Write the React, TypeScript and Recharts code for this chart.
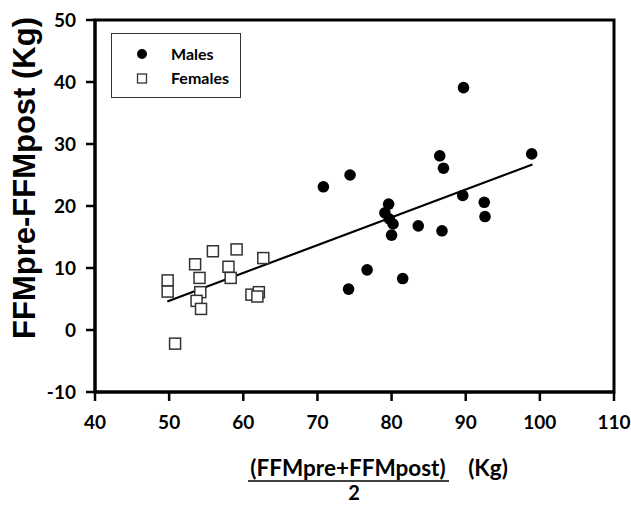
import {
  ReferenceArea,
  ReferenceLine,
  Scatter,
  ScatterChart,
  XAxis,
  YAxis,
} from "recharts";

// ─── Data ────────────────────────────────────────────────────────────────────

const maleX = [70.8, 74.4, 74.2, 76.7, 79.6, 79.1, 79.7, 80.2, 80.0, 81.5, 83.6, 86.5, 87.0, 86.8, 89.7, 89.6, 92.5, 92.6, 98.9];
const maleY = [23.1, 25.0, 6.6, 9.7, 20.3, 18.9, 17.9, 17.1, 15.3, 8.3, 16.8, 28.1, 26.1, 16.0, 39.1, 21.7, 20.6, 18.3, 28.4];

const femaleX = [49.8, 49.8, 50.8, 53.5, 54.1, 54.2, 53.7, 54.3, 55.9, 59.1, 58.0, 58.3, 62.7, 61.1, 62.1, 61.9];
const femaleY = [8.0, 6.2, -2.2, 10.6, 8.4, 6.1, 4.7, 3.4, 12.7, 13.0, 10.2, 8.4, 11.6, 5.7, 6.1, 5.4];

// regression line end points
const fitX = [49.75, 99.0];
const fitY = [4.6, 26.7];

const xTicks = [40, 50, 60, 70, 80, 90, 100, 110];
const yTicks = [-10, 0, 10, 20, 30, 40, 50];

const males = maleX.map((x, i) => ({ x, y: maleY[i] }));
const females = femaleX.map((x, i) => ({ x, y: femaleY[i] }));

// ─── Styles ──────────────────────────────────────────────────────────────────

const tickFont = { fill: "#000", fontSize: 19, fontWeight: 700, fontFamily: "Lato" } as const;
const axisLine = { stroke: "#000", strokeWidth: 3 } as const;
const tickLine = { stroke: "#000", strokeWidth: 2.5 } as const;

function MaleDot(props: any) {
  const { cx, cy } = props;
  return <circle cx={cx} cy={cy} r={5.8} fill="#000" />;
}

function FemaleSquare(props: any) {
  const { cx, cy } = props;
  return (
    <rect x={cx - 5.5} y={cy - 5.5} width={11} height={11} fill="#fff" stroke="#333" strokeWidth={1.5} />
  );
}

function XTitle() {
  const font = { fontFamily: "Lato", fontWeight: 700, fontSize: 22.5, fill: "#000" };
  return (
    <g>
      <text x={348} y={476} textAnchor="middle" style={font}>
        (FFMpre+FFMpost)
      </text>
      <line x1={248} x2={449} y1={481} y2={481} stroke="#000" strokeWidth={1.5} />
      <text x={354} y={500} textAnchor="middle" style={{ ...font, fontSize: 20 }}>
        2
      </text>
      <text x={488} y={476} textAnchor="middle" style={font}>
        (Kg)
      </text>
    </g>
  );
}

function YTitle() {
  return (
    <text
      x={24}
      y={178}
      dy="0.35em"
      textAnchor="middle"
      transform="rotate(-90 24 178)"
      style={{ fontFamily: "Liberation Sans", fontWeight: 700, fontSize: 31, fill: "#000" }}
    >
      FFMpre-FFMpost (Kg)
    </text>
  );
}

function LegendBox() {
  const font = { fontFamily: "Lato", fontWeight: 700, fontSize: 16, color: "#000", lineHeight: "20px" };
  return (
    <div
      style={{
        position: "absolute",
        left: 111,
        top: 33,
        width: 128,
        height: 63,
        border: "1.5px solid #333",
        background: "#fff",
      }}
    >
      <svg width={20} height={60} style={{ position: "absolute", left: 20, top: 0 }}>
        <circle cx={10} cy={20} r={5} fill="#000" />
        <rect x={5.5} y={40} width={9} height={9} fill="#fff" stroke="#333" strokeWidth={1.3} />
      </svg>
      <div style={{ ...font, position: "absolute", left: 59, top: 10 }}>Males</div>
      <div style={{ ...font, position: "absolute", left: 59, top: 34 }}>Females</div>
    </div>
  );
}

export default function App() {
  return (
    <div style={{ position: "absolute", left: 0, top: 0, width: 631, height: 507, background: "#fff" }}>
      <ScatterChart width={631} height={507} margin={{ top: 20, right: 17, left: 0, bottom: 15 }}>
        <XAxis
          type="number"
          dataKey="x"
          domain={[40, 110]}
          ticks={xTicks}
          allowDataOverflow
          tick={tickFont}
          tickSize={9}
          tickMargin={15}
          axisLine={axisLine}
          tickLine={tickLine}
          height={100}
          label={<XTitle />}
        />
        <YAxis
          type="number"
          dataKey="y"
          domain={[-10, 50]}
          ticks={yTicks}
          allowDataOverflow
          tick={tickFont}
          tickSize={9}
          tickMargin={10}
          axisLine={axisLine}
          tickLine={tickLine}
          width={95}
          label={<YTitle />}
        />
        <ReferenceArea x1={40} x2={110} y1={-10} y2={50} fill="none" stroke="#000" strokeWidth={3} fillOpacity={0} />
        <ReferenceLine
          segment={[
            { x: fitX[0], y: fitY[0] },
            { x: fitX[1], y: fitY[1] },
          ]}
          stroke="#000"
          strokeWidth={2.2}
        />
        <Scatter name="Females" data={females} shape={FemaleSquare} isAnimationActive={false} />
        <Scatter name="Males" data={males} shape={MaleDot} isAnimationActive={false} />
      </ScatterChart>
      <LegendBox />
    </div>
  );
}
